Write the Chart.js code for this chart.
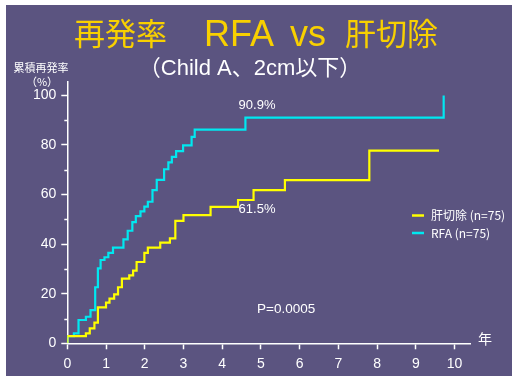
<!DOCTYPE html>
<html><head><meta charset="utf-8">
<script src="https://cdn.jsdelivr.net/npm/chart.js@4.4.1/dist/chart.umd.min.js"></script>
<style>html,body{margin:0;padding:0;background:#fff;}#wrap{width:516px;height:379px;position:relative;}</style>
</head><body><div id="wrap"><canvas id="c" width="516" height="379"></canvas></div>
<script>
// ---- data ----
const seriesNames = ['肝切除 (n=75)', 'RFA (n=75)'];
const hepYears = [0,0,0.48,0.58,0.70,0.79,1.0,1.09,1.21,1.31,1.41,1.60,1.70,1.79,1.99,2.08,2.40,2.65,2.79,3.0,3.70,4.41,4.81,5.62,7.80,9.6];
const hepRates = [0,2.9,4.0,6.0,8.3,14.5,16.4,18.0,19.7,22.6,26.1,27.4,29.3,32.8,36.5,38.6,40.6,42.3,49.4,51.7,55.0,57.8,61.8,65.8,77.7,77.7];
const rfaYears = [0,0,0.17,0.29,0.48,0.6,0.72,0.79,0.86,0.96,1.06,1.18,1.45,1.56,1.68,1.77,1.89,1.99,2.08,2.20,2.31,2.50,2.61,2.70,2.81,2.99,3.21,3.29,4.6,9.72,9.72];
const rfaRates = [0,2.9,4.0,9.4,10.7,13.4,22.6,30.2,33.6,34.7,36.5,38.6,41.9,45.4,48.9,51.3,53.2,55.1,57.1,61.8,65.9,70.2,73.0,75.2,77.5,79.8,83.3,86.2,91.0,91.0,100];
const xTicks = [0,1,2,3,4,5,6,7,8,9,10];
const yTicks = [0,20,40,60,80,100];
const annotations = [
  {text:'90.9%', x:4.9, y:95.8},
  {text:'61.5%', x:4.9, y:54.2},
];
const pText = 'P=0.0005';
const titleParts = ['再発率', 'RFA', 'vs', '肝切除'];
const subtitle = '（Child A、2cm以下）';
const yTitle = ['累積再発率', '（%）'];
const xUnit = '年';

const YELLOW = '#ffff00', CYAN = '#00e8f0', BG = '#5b5480';
const pts = (xs, ys) => xs.map((x,i)=>({x, y:ys[i]}));

const deco = {
  id:'deco',
  beforeDraw(chart){
    const ctx = chart.ctx;
    ctx.save();
    ctx.fillStyle = '#fff'; ctx.fillRect(0,0,516,379);
    ctx.fillStyle = BG; ctx.fillRect(6,5,506,371);
    ctx.restore();
  },
  afterDraw(chart){
    const ctx = chart.ctx, xs = chart.scales.x, ys = chart.scales.y;
    ctx.save();
    // minor y ticks
    ctx.strokeStyle = '#fff'; ctx.lineWidth = 1.5;
    for (let v=10; v<=90; v+=20){
      const py = Math.round(ys.getPixelForValue(v))+0.5;
      ctx.beginPath(); ctx.moveTo(xs.left-3, py); ctx.lineTo(xs.left, py); ctx.stroke();
    }
    // title
    ctx.fillStyle = '#f8d000';
    ctx.textBaseline = 'alphabetic';
    ctx.font = '31px "Noto Sans CJK JP"';
    ctx.textAlign = 'left'; ctx.fillText(titleParts[0], 74, 45);
    ctx.font = '36px "Liberation Sans"';
    ctx.fillText(titleParts[1], 204, 46);
    ctx.fillText(titleParts[2], 290, 46);
    ctx.font = '31px "Noto Sans CJK JP"';
    ctx.textAlign = 'right'; ctx.fillText(titleParts[3], 438, 45);
    // subtitle
    ctx.fillStyle = '#fff';
    ctx.textAlign = 'center'; ctx.textBaseline = 'middle';
    ctx.font = '22px "Liberation Sans", "Noto Sans CJK JP"';
    ctx.fillText(subtitle, 250, 69);
    // y title
    ctx.font = '11px "Noto Sans CJK JP"';
    ctx.fillText(yTitle[0], 41, 68);
    ctx.fillText(yTitle[1], 42, 82);
    // x unit
    ctx.font = '14px "Noto Sans CJK JP"';
    ctx.fillText(xUnit, 485, 339);
    // annotations
    ctx.font = '13px "Liberation Sans"';
    annotations.forEach(a=>{
      ctx.textAlign='center';
      ctx.fillText(a.text, xs.getPixelForValue(a.x), ys.getPixelForValue(a.y));
    });
    ctx.textAlign='left';
    ctx.font = '13.5px "Liberation Sans"';
    ctx.fillText(pText, xs.getPixelForValue(4.9), ys.getPixelForValue(13.6));
    // legend
    chart.data.datasets.forEach((d,i)=>{
      const y = 215.5 + i*17.5;
      ctx.strokeStyle = d.borderColor; ctx.lineWidth = 2.5;
      ctx.beginPath(); ctx.moveTo(412,y); ctx.lineTo(424,y); ctx.stroke();
      ctx.fillStyle = '#fff';
      ctx.font = '12px "Noto Sans CJK JP"';
      ctx.textAlign='left'; ctx.textBaseline='middle';
      ctx.fillText(d.label, 431, y);
    });
    ctx.restore();
  }
};

new Chart(document.getElementById('c'), {
  type:'line',
  data:{datasets:[
    {label:seriesNames[0], data:pts(hepYears,hepRates), borderColor:YELLOW, borderWidth:2.2, stepped:'before', pointRadius:0, fill:false},
    {label:seriesNames[1], data:pts(rfaYears,rfaRates), borderColor:CYAN, borderWidth:2.2, stepped:'before', pointRadius:0, fill:false},
  ]},
  options:{
    responsive:false, animation:false, devicePixelRatio:1,
    layout:{padding:{top:82, right:46, left:0, bottom:0}},
    plugins:{legend:{display:false}, tooltip:{enabled:false}},
    scales:{
      x:{type:'linear', min:0, max:10.4,
        afterFit:s=>{s.height=35.7;},
        afterBuildTicks:s=>{s.ticks = xTicks.map(v=>({value:v}));},
        ticks:{color:'#fff', font:{family:'"Liberation Sans"', size:14}, padding:6, maxRotation:0, includeBounds:false},
        grid:{drawOnChartArea:false, drawTicks:true, tickLength:6, tickColor:'#fff', tickWidth:1.5},
        border:{color:'#fff', width:1.5}},
      y:{type:'linear', min:0, max:105.4,
        afterFit:s=>{s.width=67.3;},
        afterBuildTicks:s=>{s.ticks = yTicks.map(v=>({value:v}));},
        ticks:{color:'#fff', font:{family:'"Liberation Sans"', size:14}, padding:5, includeBounds:false},
        grid:{drawOnChartArea:false, drawTicks:true, tickLength:6, tickColor:'#fff', tickWidth:1.5},
        border:{color:'#fff', width:1.5}}
    }
  },
  plugins:[deco]
});
</script></body></html>
